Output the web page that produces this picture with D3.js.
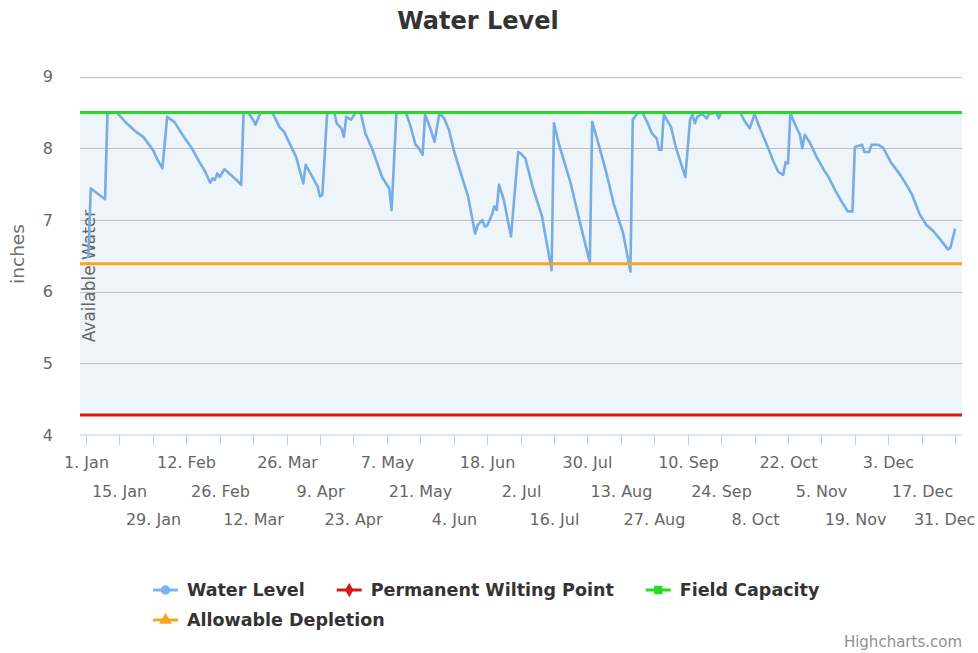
<!DOCTYPE html>
<html>
<head>
<meta charset="utf-8">
<script src="https://cdn.jsdelivr.net/npm/d3@7"></script>
<style>
  body { margin: 0; background: #fff; }
  svg { font-family: "DejaVu Sans", sans-serif; }
</style>
</head>
<body>
<svg width="978" height="653"></svg>
<script>
// day of year (0 = 1 Jan) and water level
var waterDay = [1, 2, 8, 9, 13, 17, 21, 24, 28, 30, 32, 34, 37, 41, 44, 47, 50, 52, 53, 54, 55, 56, 58, 60, 63, 65,
  66, 68, 70, 71, 73, 78, 79, 81, 83, 86, 88, 91, 92, 94, 97, 98, 99,
  101, 104, 105, 107, 108, 109, 111, 113, 115, 117, 120, 122, 124, 127, 128,
  130, 134, 136, 138, 139, 141, 142, 144, 146, 148, 150, 152, 154, 157, 160, 163, 164, 166, 167, 168, 170, 171, 172, 173, 175, 178,
  181, 182, 184, 187, 191, 195, 196, 198, 203, 207, 211, 212, 215, 218, 221, 225, 228,
  229, 231, 233, 235, 237, 239, 240, 241, 242, 245, 247, 251, 253, 254, 255, 256, 258, 260, 261, 264, 265, 266,
  274, 276, 278, 280, 282, 284, 286, 288, 290, 292, 293, 294, 295, 297, 299, 300, 301, 303, 306, 309, 311, 314, 317, 319, 321,
  322, 325, 326, 328, 329, 332, 334, 337, 341, 344, 346, 349, 352, 355, 358, 361, 362, 364];
var waterLevel = [6.47, 7.44, 7.29, 8.49, 8.50, 8.35, 8.23, 8.16, 7.98, 7.84, 7.72, 8.44, 8.37, 8.16, 8.02, 7.84, 7.67, 7.52, 7.58, 7.56, 7.65, 7.60, 7.71, 7.65, 7.56, 7.49,
  8.49, 8.50, 8.40, 8.33, 8.49, 8.50, 8.44, 8.30, 8.23, 8.02, 7.88, 7.51, 7.77, 7.65, 7.47, 7.33, 7.35,
  8.49, 8.50, 8.35, 8.28, 8.16, 8.44, 8.40, 8.50, 8.50, 8.21, 7.98, 7.79, 7.60, 7.44, 7.14,
  8.49, 8.50, 8.30, 8.05, 8.02, 7.91, 8.47, 8.30, 8.09, 8.49, 8.42, 8.26, 7.98, 7.65, 7.33, 6.81, 6.93, 7.00, 6.91, 6.92, 7.07, 7.19, 7.14, 7.49, 7.28, 6.77,
  7.95, 7.93, 7.86, 7.47, 7.05, 6.30, 8.35, 8.07, 7.51, 6.95, 6.41, 8.37, 8.02, 7.65, 7.23, 6.81, 6.28,
  8.40, 8.49, 8.50, 8.37, 8.21, 8.14, 7.98, 7.98, 8.47, 8.30, 8.02, 7.60, 8.40, 8.47, 8.35, 8.44, 8.48, 8.42, 8.48, 8.50, 8.42, 8.50,
  8.50, 8.37, 8.28, 8.48, 8.30, 8.14, 7.98, 7.81, 7.67, 7.63, 7.81, 7.79, 8.49, 8.33, 8.19, 8.00, 8.19, 8.09, 7.88, 7.70, 7.60, 7.40, 7.23, 7.12, 7.12,
  8.02, 8.05, 7.95, 7.95, 8.05, 8.05, 8.00, 7.81, 7.63, 7.47, 7.35, 7.09, 6.93, 6.84, 6.72, 6.59, 6.61, 6.88];

var wiltingPoint = 4.28;
var fieldCapacity = 8.5;
var allowableDepletion = 6.39;

var yTicks = [4, 5, 6, 7, 8, 9];
var tickDates = ["2015-01-01", "2015-01-15", "2015-01-29", "2015-02-12", "2015-02-26", "2015-03-12", "2015-03-26",
  "2015-04-09", "2015-04-23", "2015-05-07", "2015-05-21", "2015-06-04", "2015-06-18", "2015-07-02", "2015-07-16",
  "2015-07-30", "2015-08-13", "2015-08-27", "2015-09-10", "2015-09-24", "2015-10-08", "2015-10-22", "2015-11-05",
  "2015-11-19", "2015-12-03", "2015-12-17", "2015-12-31"];

var legendNames = ["Water Level", "Permanent Wilting Point", "Field Capacity", "Allowable Depletion"];
var legendColors = ["#7cb5ec", "#d41a1a", "#22dd22", "#f5a623"];
var legendSymbols = [d3.symbolCircle, d3.symbolDiamond, d3.symbolSquare, d3.symbolTriangle];

var svg = d3.select("svg");
var plotLeft = 80, plotRight = 962, plotTop = 76.7, plotBottom = 435;

var parse = d3.utcParse("%Y-%m-%d");
var jan1 = parse("2015-01-01");
var dec31 = parse("2015-12-31");

var x = d3.scaleUtc()
  .domain([d3.utcHour.offset(jan1, -60), d3.utcHour.offset(dec31, 69)])
  .range([plotLeft, plotRight]);
var y = d3.scaleLinear().domain([4, 9]).range([plotBottom, plotTop]);

// title
svg.append("text")
  .attr("x", 478).attr("y", 29)
  .attr("text-anchor", "middle")
  .attr("font-size", 24).attr("font-weight", "bold")
  .attr("fill", "#333")
  .text("Water Level");

// plot band
svg.append("rect")
  .attr("x", plotLeft).attr("width", plotRight - plotLeft)
  .attr("y", y(fieldCapacity)).attr("height", y(wiltingPoint) - y(fieldCapacity))
  .attr("fill", "#edf4fa");

// grid
svg.append("g").selectAll("line")
  .data(yTicks.slice(1))
  .enter().append("line")
  .attr("x1", plotLeft).attr("x2", plotRight)
  .attr("y1", function (d) { return Math.round(y(d)) + 0.5; })
  .attr("y2", function (d) { return Math.round(y(d)) + 0.5; })
  .attr("stroke", "#c0c0c0").attr("stroke-width", 1);

svg.append("text")
  .attr("transform", "translate(89,276) rotate(-90)")
  .attr("text-anchor", "middle").attr("dy", "0.35em")
  .attr("font-size", 17).attr("fill", "#666")
  .text("Available Water");

// y axis labels
svg.append("g").selectAll("text")
  .data(yTicks)
  .enter().append("text")
  .attr("x", 53).attr("y", function (d) { return y(d); })
  .attr("dy", "0.35em").attr("text-anchor", "end")
  .attr("font-size", 16).attr("fill", "#666")
  .text(function (d) { return d; });

svg.append("text")
  .attr("transform", "translate(18,254) rotate(-90)")
  .attr("text-anchor", "middle").attr("dy", "0.35em")
  .attr("font-size", 18.5).attr("fill", "#707070")
  .text("inches");

// x axis
var xAxis = svg.append("g").attr("transform", "translate(0," + plotBottom + ")");
xAxis.append("line").attr("x1", plotLeft).attr("x2", plotRight)
  .attr("stroke", "#c0d0e0").attr("stroke-width", 1);
var fmt = d3.utcFormat("%-d. %b");
var ticks = xAxis.selectAll("g.tick")
  .data(tickDates.map(parse))
  .enter().append("g")
  .attr("transform", function (d) { return "translate(" + (Math.round(x(d)) + 0.5) + ",0)"; });
ticks.append("line").attr("y2", 10).attr("stroke", "#c0d0e0");
ticks.append("text")
  .attr("y", function (d, i) { return 33 + (i % 3) * 28.5; })
  .attr("text-anchor", "middle")
  .attr("font-size", 16).attr("fill", "#666")
  .text(fmt)
  .each(function (d) {
    // keep the last label inside the chart, as Highcharts does
    var w = this.getComputedTextLength();
    var over = x(d) + w / 2 - 975;
    if (over > 0) d3.select(this).attr("x", -over);
  });

// series
var points = waterDay.map(function (d, i) {
  return { date: d3.utcDay.offset(jan1, d), value: waterLevel[i] };
});
var line = d3.line()
  .x(function (d) { return x(d.date); })
  .y(function (d) { return y(d.value); });

svg.append("path")
  .datum(points)
  .attr("d", line)
  .attr("fill", "none")
  .attr("stroke", "#78acE4")
  .attr("stroke-width", 2.6)
  .attr("stroke-linejoin", "round");

var flat = [wiltingPoint, fieldCapacity, allowableDepletion];
svg.append("g").selectAll("line")
  .data(flat)
  .enter().append("line")
  .attr("x1", plotLeft).attr("x2", plotRight)
  .attr("y1", function (d) { return y(d); })
  .attr("y2", function (d) { return y(d); })
  .attr("stroke", function (d, i) { return legendColors[i + 1]; })
  .attr("stroke-width", 3);

// legend
var legend = svg.append("g");
var lx = 153, ly = 590;
legendNames.forEach(function (name, i) {
  if (i == 3) { lx = 153; ly = 620; }
  var item = legend.append("g").attr("transform", "translate(" + lx + "," + ly + ")");
  item.append("line").attr("x1", 0).attr("x2", 25)
    .attr("stroke", legendColors[i]).attr("stroke-width", 3);
  item.append("path")
    .attr("transform", "translate(12.5,0)")
    .attr("d", d3.symbol().type(legendSymbols[i]).size(i == 1 ? 60 : 70)())
    .attr("fill", legendColors[i]);
  var t = item.append("text")
    .attr("x", 34).attr("dy", "0.35em")
    .attr("font-size", 17.5).attr("font-weight", "bold")
    .attr("fill", "#333")
    .text(name);
  lx += 34 + t.node().getComputedTextLength() + 32;
});

svg.append("text")
  .attr("x", 962).attr("y", 647)
  .attr("text-anchor", "end")
  .attr("font-size", 15).attr("fill", "#909090")
  .text("Highcharts.com");
</script>
</body>
</html>
